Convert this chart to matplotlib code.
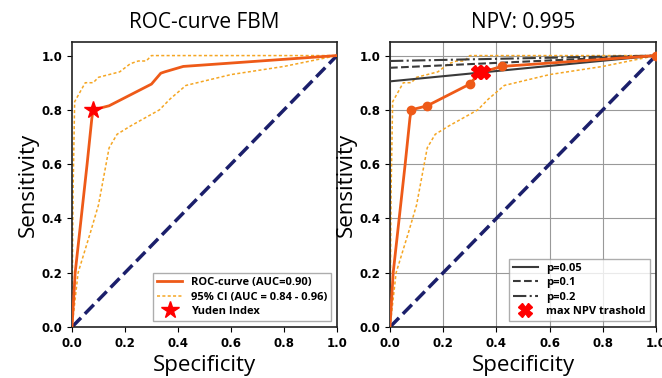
import numpy as np
from matplotlib import pyplot as plt

# ROC curve points (specificity axis as drawn, sensitivity)
roc_x = [0.0, 0.012, 0.057, 0.075, 0.08, 0.14, 0.30, 0.335, 0.35, 0.42, 1.0]
roc_y = [0.0, 0.20, 0.60, 0.77, 0.80, 0.815, 0.895, 0.935, 0.94, 0.96, 1.0]

ci_up_x = [0.0, 0.004, 0.01, 0.05, 0.08, 0.10, 0.18, 0.22, 0.25, 0.28, 0.30, 1.0]
ci_up_y = [0.0, 0.50, 0.83, 0.90, 0.90, 0.92, 0.94, 0.97, 0.98, 0.98, 1.0, 1.0]

ci_lo_x = [0.0, 0.023, 0.07, 0.10, 0.14, 0.17, 0.22, 0.33, 0.37, 0.43, 0.60, 0.80, 1.0]
ci_lo_y = [0.0, 0.20, 0.35, 0.45, 0.66, 0.71, 0.74, 0.80, 0.84, 0.89, 0.93, 0.96, 1.0]

yuden_x, yuden_y = 0.08, 0.80

# threshold points shown on the NPV plot
pts_x = [0.08, 0.14, 0.30, 0.42, 1.0]
pts_y = [0.80, 0.815, 0.895, 0.96, 1.0]
npv_x = [0.33, 0.35]
npv_y = [0.94, 0.94]

# NPV iso-lines for prevalence p
p_labels = ["p=0.05", "p=0.1", "p=0.2"]
p_start = [0.905, 0.955, 0.98]
p_styles = ["-", "--", "-."]

ROC_C = "#ee5a18"
CI_C = "#f5a623"
DIAG_C = "#1b1f6b"

label_font = {"family": "Open Sans", "fontsize": 16}
title_font = {"family": "Open Sans", "fontsize": 15}
legend_prop = {"family": "Open Sans", "weight": "bold", "size": 8}


def setup_axes(ax, title):
    ax.plot([0, 1], [0, 1], ls="--", c=DIAG_C, lw=2.5, zorder=1)
    ax.set_xlim(0, 1.0)
    ax.set_ylim(0, 1.05)
    ax.set_xticks(np.arange(0, 1.01, 0.2))
    ax.set_yticks(np.arange(0, 1.01, 0.2))
    ax.set_xticklabels(["0.0", "0.2", "0.4", "0.6", "0.8", "1.0"])
    ax.set_yticklabels(["0.0", "0.2", "0.4", "0.6", "0.8", "1.0"])
    for lab in ax.get_xticklabels() + ax.get_yticklabels():
        lab.set_fontweight("bold")
        lab.set_fontsize(8.5)
    ax.set_title(title, pad=10, **title_font)
    ax.set_xlabel("Specificity", labelpad=4, **label_font)
    ax.set_ylabel("Sensitivity", labelpad=2, **label_font)
    for s in ax.spines.values():
        s.set_color("#222222")
        s.set_linewidth(1.2)


fig = plt.figure(figsize=(6.62, 3.78), dpi=100)
ax1 = fig.add_axes([72 / 662, 1 - 327 / 378, 265 / 662, 285 / 378])
ax2 = fig.add_axes([390 / 662, 1 - 327 / 378, 266 / 662, 285 / 378])

# left: ROC curve
setup_axes(ax1, "ROC-curve FBM")
ax1.plot(roc_x, roc_y, c=ROC_C, lw=2, label="ROC-curve (AUC=0.90)", zorder=3)
ax1.plot(ci_up_x, ci_up_y, ls="--", dashes=(2, 1.5), c=CI_C, lw=1.1,
         label="95% CI (AUC = 0.84 - 0.96)", zorder=2)
ax1.plot(ci_lo_x, ci_lo_y, ls="--", dashes=(2, 1.5), c=CI_C, lw=1.1, zorder=2)
ax1.plot(yuden_x, yuden_y, "*", c="red", ms=13, ls="none",
         label="Yuden Index", zorder=4)
leg1 = ax1.legend(loc="lower right", prop=legend_prop, fancybox=False,
                  borderpad=0.4, labelspacing=0.3, handlelength=2.2)
leg1.get_frame().set_edgecolor("#999999")

# right: NPV plot
setup_axes(ax2, "NPV: 0.995")
ax2.grid(True, c="#999999", lw=0.8)
ax2.set_axisbelow(True)
ax2.plot(ci_up_x, ci_up_y, ls="--", dashes=(2, 1.5), c=CI_C, lw=1.1, zorder=2)
ax2.plot(ci_lo_x, ci_lo_y, ls="--", dashes=(2, 1.5), c=CI_C, lw=1.1, zorder=2)
for lab, y0, st in zip(p_labels, p_start, p_styles):
    ax2.plot([0, 1], [y0, 1], ls=st, c="#3a3a3a", lw=1.5, label=lab, zorder=3)
ax2.plot(roc_x, roc_y, c=ROC_C, lw=2, zorder=4)
ax2.plot(pts_x, pts_y, "o", c=ROC_C, ms=6, zorder=5)
ax2.plot(npv_x, npv_y, "X", c="red", ms=10, ls="none",
         label="max NPV trashold", zorder=6)
leg2 = ax2.legend(loc="lower right", prop=legend_prop, fancybox=False,
                  borderpad=0.4, labelspacing=0.3, handlelength=2.2)
leg2.get_frame().set_edgecolor("#999999")

fig.savefig("out.png", dpi=100)
